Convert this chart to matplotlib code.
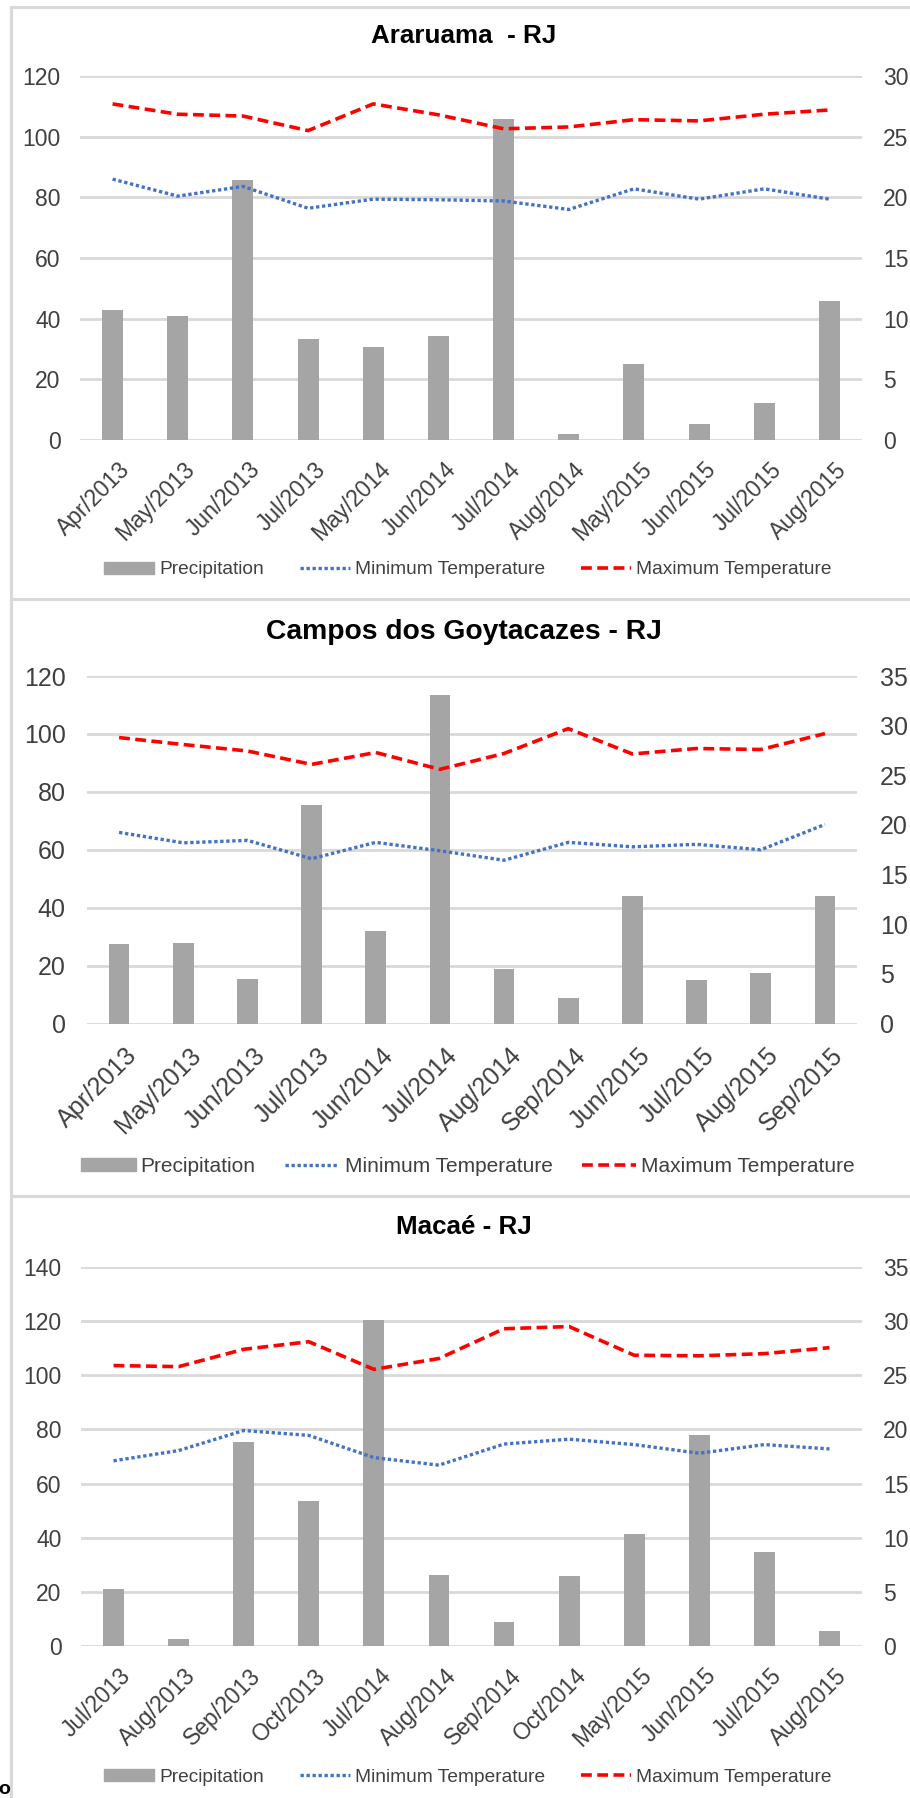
import numpy as np
import matplotlib
matplotlib.use('Agg')
import matplotlib.pyplot as plt
import matplotlib.transforms as mtransforms
from matplotlib.lines import Line2D

plt.rcParams['font.family'] = ['Liberation Sans', 'DejaVu Sans']

# Araruama - RJ
ara_months = ['Apr/2013', 'May/2013', 'Jun/2013', 'Jul/2013', 'May/2014', 'Jun/2014',
              'Jul/2014', 'Aug/2014', 'May/2015', 'Jun/2015', 'Jul/2015', 'Aug/2015']
ara_prec = [43.0, 40.8, 85.7, 33.3, 30.8, 34.3, 105.9, 2.0, 25.0, 5.3, 12.1, 45.8]
ara_tmin = [21.5, 20.1, 20.9, 19.1, 19.85, 19.8, 19.7, 19.0, 20.7, 19.85, 20.7, 19.85]
ara_tmax = [27.7, 26.85, 26.7, 25.5, 27.7, 26.8, 25.65, 25.8, 26.4, 26.3, 26.85, 27.2]

# Campos dos Goytacazes - RJ
cam_months = ['Apr/2013', 'May/2013', 'Jun/2013', 'Jul/2013', 'Jun/2014', 'Jul/2014',
              'Aug/2014', 'Sep/2014', 'Jun/2015', 'Jul/2015', 'Aug/2015', 'Sep/2015']
cam_prec = [27.6, 27.9, 15.3, 75.4, 32.1, 113.5, 19.0, 8.8, 44.1, 14.9, 17.4, 44.1]
cam_tmin = [19.25, 18.2, 18.45, 16.6, 18.25, 17.4, 16.45, 18.25, 17.8, 18.05, 17.5, 20.05]
cam_tmax = [28.8, 28.1, 27.45, 26.1, 27.3, 25.6, 27.2, 29.7, 27.15, 27.7, 27.6, 29.2]

# Macaé - RJ
mac_months = ['Jul/2013', 'Aug/2013', 'Sep/2013', 'Oct/2013', 'Jul/2014', 'Aug/2014',
              'Sep/2014', 'Oct/2014', 'May/2015', 'Jun/2015', 'Jul/2015', 'Aug/2015']
mac_prec = [21.0, 2.6, 75.2, 53.4, 120.5, 26.3, 9.0, 25.9, 41.5, 77.9, 34.9, 5.6]
mac_tmin = [17.1, 18.05, 19.9, 19.45, 17.4, 16.7, 18.65, 19.1, 18.6, 17.8, 18.6, 18.2]
mac_tmax = [25.9, 25.8, 27.4, 28.1, 25.55, 26.55, 29.3, 29.5, 26.85, 26.8, 27.0, 27.55]

W, H = 910, 1798
fig = plt.figure(figsize=(W / 100, H / 100), dpi=100)

BAR = '#A5A5A5'
BLUE = '#4472C4'
RED = '#FF0000'
GRID = '#D9D9D9'
TXT = '#404040'


def px(x0, y0, x1, y1):
    # pixel box (top-left origin) -> figure fraction rect
    return [x0 / W, 1 - y1 / H, (x1 - x0) / W, (y1 - y0) / H]


def panel(rect, title, title_y, months, prec, tmin, tmax, lmax, rmax, leg_y, s=1.0, colsp=1.9):
    ax = fig.add_axes(px(*rect))
    x = np.arange(len(months))
    ax.bar(x, prec, width=0.32, color=BAR, zorder=2)
    ax.set_xlim(-0.5, len(months) - 0.5)
    ax.set_ylim(0, lmax)
    ax.set_yticks(np.arange(0, lmax + 1, 20))
    for sp in ax.spines.values():
        sp.set_visible(False)
    ax.yaxis.grid(True, color=GRID, lw=2, zorder=0)
    ax.set_axisbelow(True)
    ax.tick_params(axis='y', length=0, pad=14 * s, labelsize=16.5 * s, labelcolor=TXT)
    ax.set_xticks(x)
    ax.set_xticklabels(months, rotation=45, ha='right', rotation_mode='anchor')
    ax.tick_params(axis='x', length=0, pad=13 * s, labelsize=16.5 * s, labelcolor=TXT)
    shift = mtransforms.ScaledTranslation(4 / 72, 0, fig.dpi_scale_trans)
    for lab in ax.get_xticklabels():
        lab.set_transform(lab.get_transform() + shift)

    ax2 = ax.twinx()
    ax2.plot(x, tmin, color=BLUE, lw=2.4, ls=(0, (1, 0.8)), zorder=3)
    ax2.plot(x, tmax, color=RED, lw=2.6, ls=(0, (3, 1.5)), zorder=3)
    ax2.set_ylim(0, rmax)
    ax2.set_yticks(np.arange(0, rmax + 1, 5))
    for sp in ax2.spines.values():
        sp.set_visible(False)
    ax2.tick_params(axis='y', length=0, pad=15 * s, labelsize=16.5 * s, labelcolor=TXT)

    fig.text(464 / W, 1 - title_y / H, title, ha='center', va='center',
             fontsize=18.7 * s, fontweight='bold', color='black')

    handles = [plt.Rectangle((0, 0), 1, 1, color=BAR),
               Line2D([], [], color=BLUE, lw=2.4, ls=(0, (1, 0.8))),
               Line2D([], [], color=RED, lw=2.6, ls=(0, (3, 1.5)))]
    names = ['Precipitation', 'Minimum Temperature', 'Maximum Temperature']
    fig.legend(handles, names, loc='center', bbox_to_anchor=(468 / W, 1 - leg_y / H),
               ncol=3, frameon=False, fontsize=13.8 * s, handlelength=2.6,
               handleheight=0.6, handletextpad=0.25, columnspacing=colsp,
               labelcolor=TXT)
    return ax


panel((80, 76, 862, 440), 'Araruama  - RJ', 36, ara_months, ara_prec, ara_tmin, ara_tmax,
      120, 30, 570)
panel((87, 676, 857, 1023.6), 'Campos dos Goytacazes - RJ', 632, cam_months, cam_prec,
      cam_tmin, cam_tmax, 120, 35, 1166, s=1.09, colsp=1.4)
panel((81, 1267, 862, 1646), 'Macaé - RJ', 1227, mac_months, mac_prec, mac_tmin, mac_tmax,
      140, 35, 1777)

# panel frames
border = dict(color='#D9D9D9', lw=2.2, transform=fig.transFigure)
fig.add_artist(Line2D([11 / W, 11 / W], [0, 1 - 7 / H], **border))
for yy in [7, 599, 1196]:
    fig.add_artist(Line2D([11 / W, 1], [1 - yy / H, 1 - yy / H], **border))

fig.text(-2 / W, 1 - 1789 / H, 'o', ha='left', va='center', fontsize=14,
         fontweight='bold', color='black')

fig.savefig('out.png', dpi=100)
